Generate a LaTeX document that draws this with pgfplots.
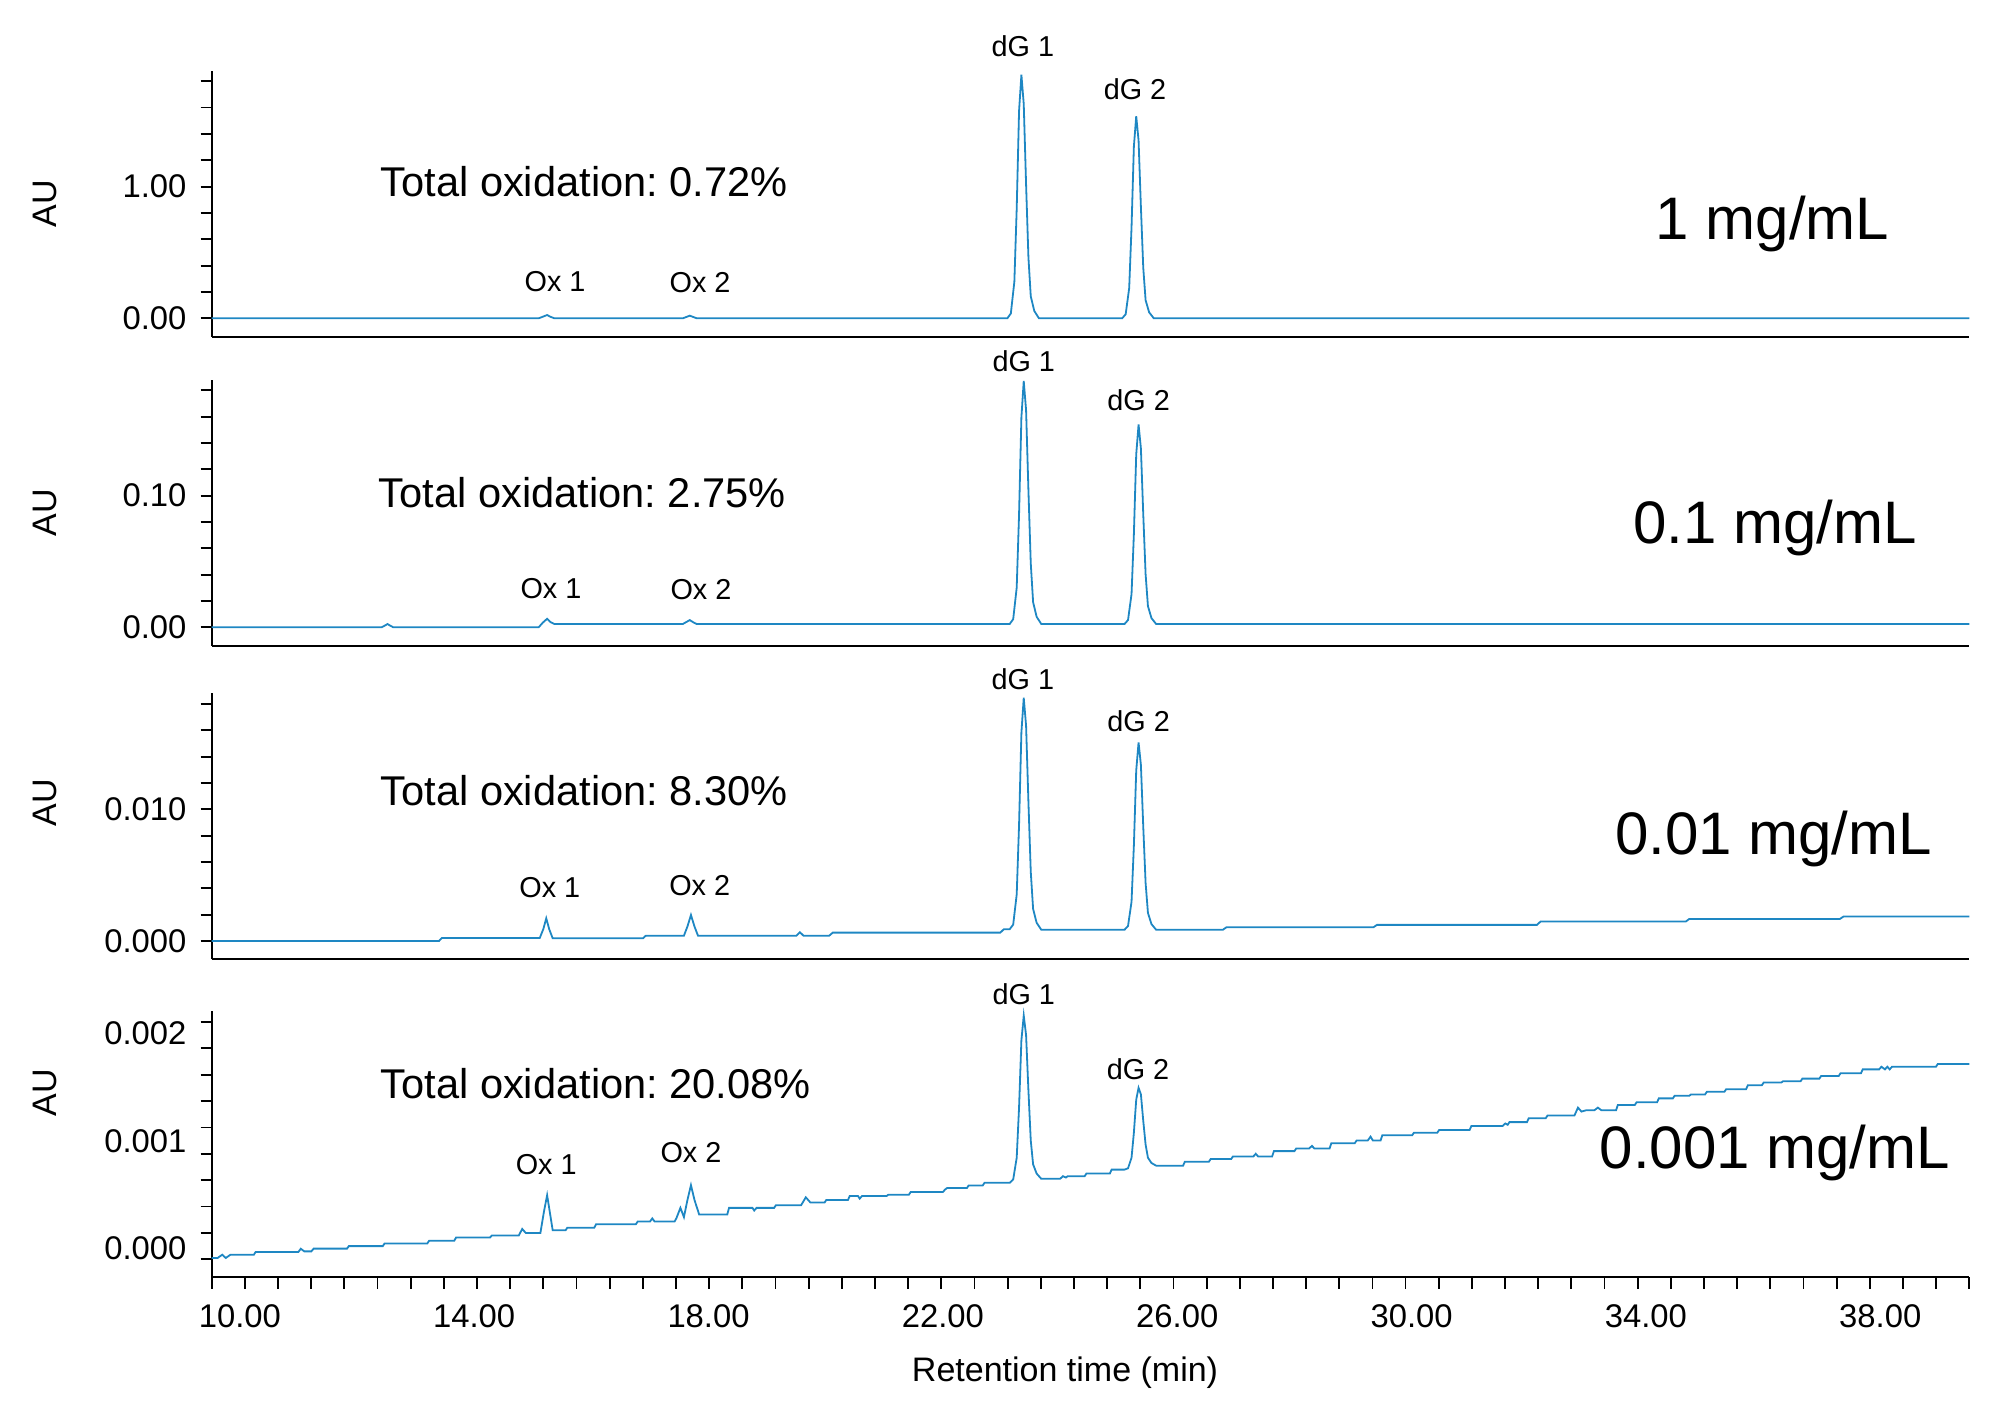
\documentclass[border=0pt]{standalone}
\usepackage{fontspec}
\setmainfont{Liberation Sans}
\usepackage{pgfplots}
\pgfplotsset{compat=1.18}
\frenchspacing
\definecolor{trace}{RGB}{30,135,195}
\newcommand{\fpk}{\fontsize{7.2}{8}\selectfont}
\newcommand{\ftot}{\fontsize{10.4}{12}\selectfont}
\newcommand{\fconc}{\fontsize{15}{18}\selectfont}
\newcommand{\ftick}{\fontsize{8.2}{10}\selectfont}
\newcommand{\flab}{\fontsize{8.5}{10}\selectfont}
\pgfplotsset{
  chrom/.style={
    scale only axis, width=439.4pt, height=66.5pt,
    xmin=9.52, xmax=39.52,
    axis lines=left, axis line style={-, line width=0.45pt, black},
    tick align=outside, major tick length=0pt, minor tick length=2.8pt,
    every tick/.style={black, line width=0.45pt},
    minor tick style={black, line width=0.45pt},
    yticklabel style={font=\ftick, xshift=-2.8pt},
    xticklabel style={font=\ftick, yshift=-3.3pt},
    scaled y ticks=false, scaled x ticks=false,
    clip=false, anchor=south west,
  },
  notx/.style={xtick=\empty, minor xtick={}},
}
\begin{document}
\begin{tikzpicture}
\path[use as bounding box] (0,0) rectangle (500pt,-355.75pt);

% ---------------- Panel 1: 1 mg/mL
\begin{axis}[chrom, notx, at={(52.93pt,-84.18pt)},
  ymin=-0.1397, ymax=1.88,
  ytick={0,1}, yticklabels={0.00,1.00},
  minor ytick={0,0.2,0.4,0.6,0.8,1.0,1.2,1.4,1.6,1.8}]
\addplot[trace, line width=0.45pt] table {
9.52 0
15.10 0
15.17 0.012
15.245 0.025
15.30 0.012
15.37 0
17.56 0
17.62 0.01
17.68 0.02
17.74 0.01
17.80 0
23.10 0
23.16 0.037
23.22 0.278
23.26 0.833
23.30 1.573
23.34 1.85
23.38 1.628
23.42 1.018
23.46 0.463
23.50 0.167
23.56 0.056
23.64 0
25.06 0
25.12 0.031
25.18 0.230
25.22 0.691
25.26 1.305
25.30 1.535
25.34 1.351
25.38 0.844
25.42 0.384
25.46 0.138
25.52 0.046
25.60 0
39.52 0
};
\node[font=\fpk, inner sep=0pt] at (axis cs:23.365,2.068) {dG 1};
\node[font=\fpk, inner sep=0pt] at (axis cs:25.28,1.741) {dG 2};
\node[font=\ftot, inner sep=0pt, anchor=west] at (axis cs:12.39,1.035) {Total oxidation: 0.72\%};
\node[font=\fpk, inner sep=0pt] at (axis cs:15.38,0.276) {Ox 1};
\node[font=\fpk, inner sep=0pt] at (axis cs:17.855,0.268) {Ox 2};
\node[font=\fconc, inner sep=0pt] at (axis cs:36.16,0.716) {1 mg/mL};
\node[font=\flab, inner sep=0pt, rotate=90] at (rel axis cs:-0.0948,0.5) {AU};
\end{axis}

% ---------------- Panel 2: 0.1 mg/mL
\begin{axis}[chrom, notx, at={(52.93pt,-161.43pt)},
  ymin=-0.01397, ymax=0.188,
  ytick={0,0.1}, yticklabels={0.00,0.10},
  minor ytick={0,0.02,0.04,0.06,0.08,0.10,0.12,0.14,0.16,0.18}]
\addplot[trace, line width=0.45pt] table {
9.52 0
12.42 0
12.47 0.0012
12.52 0.0025
12.57 0.0012
12.62 0
15.10 0
15.17 0.0035
15.245 0.0065
15.30 0.004
15.37 0.0025
17.56 0.0025
17.62 0.004
17.68 0.0055
17.74 0.0038
17.80 0.0025
23.14 0.0025
23.20 0.0062
23.26 0.0302
23.30 0.0855
23.34 0.1593
23.38 0.187
23.42 0.1649
23.46 0.1040
23.50 0.0486
23.54 0.0191
23.60 0.0080
23.68 0.0025
25.10 0.0025
25.16 0.0055
25.22 0.0252
25.26 0.0707
25.30 0.1313
25.34 0.154
25.38 0.1358
25.42 0.0858
25.46 0.0404
25.50 0.0161
25.56 0.0070
25.64 0.0025
39.52 0.0025
};
\node[font=\fpk, inner sep=0pt] at (axis cs:23.38,0.2017) {dG 1};
\node[font=\fpk, inner sep=0pt] at (axis cs:25.34,0.1725) {dG 2};
\node[font=\ftot, inner sep=0pt, anchor=west] at (axis cs:12.36,0.1026) {Total oxidation: 2.75\%};
\node[font=\fpk, inner sep=0pt] at (axis cs:15.31,0.0291) {Ox 1};
\node[font=\fpk, inner sep=0pt] at (axis cs:17.87,0.0283) {Ox 2};
\node[font=\fconc, inner sep=0pt] at (axis cs:36.2,0.0755) {0.1 mg/mL};
\node[font=\flab, inner sep=0pt, rotate=90] at (rel axis cs:-0.0948,0.5) {AU};
\end{axis}

% ---------------- Panel 3: 0.01 mg/mL
\begin{axis}[chrom, notx, at={(52.93pt,-239.83pt)},
  ymin=-0.001397, ymax=0.01881,
  ytick={0,0.01}, yticklabels={0.000,0.010},
  minor ytick={0,0.002,0.004,0.006,0.008,0.010,0.012,0.014,0.016,0.018}]
\addplot[trace, line width=0.45pt] table {
9.52 0
13.40 0
13.45 0.00023
15.12 0.00023
15.18 0.0009
15.23 0.00172
15.28 0.0009
15.34 0.0002
16.88 0.0002
16.93 0.0004
17.58 0.0004
17.64 0.0011
17.70 0.00197
17.76 0.0011
17.82 0.0004
19.50 0.0004
19.56 0.00066
19.62 0.0004
20.06 0.0004
20.12 0.00063
22.98 0.00063
23.04 0.00089
23.14 0.00089
23.20 0.00124
23.26 0.00353
23.30 0.00880
23.34 0.01583
23.38 0.01847
23.42 0.01636
23.46 0.01056
23.50 0.00525
23.54 0.00243
23.60 0.00138
23.68 0.00085
25.10 0.00085
25.16 0.00113
25.22 0.00298
25.26 0.00725
25.30 0.01295
25.34 0.01508
25.38 0.01337
25.42 0.00868
25.46 0.00441
25.50 0.00213
25.56 0.00128
25.64 0.00085
26.78 0.00085
26.84 0.00104
29.35 0.00104
29.41 0.00122
32.14 0.00122
32.20 0.00147
34.68 0.00147
34.74 0.00167
37.31 0.00167
37.37 0.00185
39.52 0.00185
};
\node[font=\fpk, inner sep=0pt] at (axis cs:23.365,0.01989) {dG 1};
\node[font=\fpk, inner sep=0pt] at (axis cs:25.34,0.01671) {dG 2};
\node[font=\ftot, inner sep=0pt, anchor=west] at (axis cs:12.39,0.01139) {Total oxidation: 8.30\%};
\node[font=\fpk, inner sep=0pt] at (axis cs:15.29,0.00402) {Ox 1};
\node[font=\fpk, inner sep=0pt] at (axis cs:17.85,0.00417) {Ox 2};
\node[font=\fconc, inner sep=0pt] at (axis cs:36.18,0.00774) {0.01 mg/mL};
\node[font=\flab, inner sep=0pt, rotate=90] at (rel axis cs:-0.0948,0.588) {AU};
\end{axis}

% ---------------- Panel 4: 0.001 mg/mL
\begin{axis}[chrom, at={(52.93pt,-319.33pt)},
  ymin=-0.0001367, ymax=0.00188,
  ytick={0.0000835,0.000894,0.001716}, yticklabels={0.000,0.001,0.002},
  minor ytick={0,0.0002,0.0004,0.0006,0.0008,0.0010,0.0012,0.0014,0.0016,0.0018},
  xtick={10,14,18,22,26,30,34,38},
  xticklabels={10.00,14.00,18.00,22.00,26.00,30.00,34.00,38.00},
  minor xtick={9.52,10.086038,...,39.53}]
\addplot[trace, line width=0.45pt] table {
9.52 0.00001
9.62 0.00001
9.70 0.000035
9.76 0.00001
9.84 0.000035
10.24 0.000035
10.27 0.000056
11.00 0.000056
11.04 0.00008
11.10 0.00006
11.22 0.00006
11.26 0.000081
11.83 0.000081
11.86 0.0001
12.44 0.0001
12.47 0.00012
13.20 0.00012
13.23 0.00014
13.66 0.00014
13.69 0.000165
14.27 0.000165
14.30 0.00018
14.76 0.00018
14.82 0.00023
14.88 0.0002
15.13 0.0002
15.19 0.00036
15.245 0.000486
15.29 0.00036
15.34 0.00022
15.56 0.00022
15.59 0.00024
16.05 0.00024
16.08 0.000266
16.76 0.000266
16.79 0.000286
17.00 0.000286
17.04 0.00031
17.08 0.000286
17.42 0.000286
17.45 0.00031
17.52 0.00039
17.58 0.00032
17.64 0.00045
17.70 0.000562
17.76 0.00045
17.84 0.00034
18.32 0.00034
18.35 0.00039
18.75 0.00039
18.78 0.00037
18.82 0.00039
19.12 0.00039
19.15 0.00041
19.58 0.00041
19.66 0.00047
19.74 0.00043
19.98 0.00043
20.01 0.00045
20.38 0.00045
20.41 0.00048
20.55 0.00048
20.58 0.00046
20.62 0.00048
21.04 0.00048
21.07 0.00049
21.42 0.00049
21.45 0.00051
22.00 0.00051
22.04 0.00053
22.07 0.00054
22.41 0.00054
22.44 0.00056
22.68 0.00056
22.71 0.00058
23.14 0.00058
23.20 0.000605
23.26 0.00077
23.30 0.00115
23.34 0.00166
23.38 0.001848
23.42 0.00170
23.46 0.00128
23.50 0.00090
23.54 0.00072
23.60 0.00065
23.68 0.00061
24.00 0.00061
24.05 0.00063
24.10 0.00062
24.13 0.00063
24.42 0.00063
24.45 0.00065
24.85 0.00065
24.88 0.00068
25.10 0.00068
25.16 0.00069
25.22 0.00077
25.26 0.00096
25.30 0.00121
25.34 0.0013
25.38 0.00125
25.42 0.00105
25.46 0.00087
25.50 0.00077
25.56 0.00073
25.64 0.00071
26.10 0.00071
26.13 0.00074
26.54 0.00074
26.57 0.00076
26.92 0.00076
26.95 0.00078
27.30 0.00078
27.34 0.00080
27.38 0.00078
27.62 0.00078
27.65 0.00082
28.00 0.00082
28.03 0.00084
28.25 0.00084
28.30 0.00086
28.34 0.00084
28.60 0.00084
28.63 0.00088
29.03 0.00088
29.06 0.00090
29.25 0.00090
29.30 0.00093
29.34 0.00090
29.47 0.00090
29.50 0.00094
30.01 0.00094
30.04 0.00096
30.44 0.00096
30.47 0.00098
30.99 0.00098
31.02 0.00101
31.55 0.00101
31.60 0.00103
31.64 0.00102
31.67 0.00104
31.97 0.00104
32.00 0.00107
32.29 0.00107
32.32 0.00109
32.78 0.00109
32.84 0.00115
32.90 0.00112
32.98 0.00113
33.12 0.00113
33.18 0.00115
33.24 0.00113
33.49 0.00113
33.52 0.00117
33.81 0.00117
33.84 0.00119
34.19 0.00119
34.22 0.00122
34.46 0.00122
34.49 0.00124
34.74 0.00124
34.77 0.00125
35.01 0.00125
35.04 0.00127
35.34 0.00127
35.37 0.00129
35.71 0.00129
35.74 0.00132
35.98 0.00132
36.01 0.00134
36.31 0.00134
36.34 0.00135
36.64 0.00135
36.67 0.00137
36.96 0.00137
36.99 0.00139
37.29 0.00139
37.32 0.00141
37.67 0.00141
37.70 0.00144
37.98 0.00144
38.02 0.00146
38.08 0.00144
38.12 0.00146
38.16 0.00144
38.20 0.00146
38.95 0.00146
38.98 0.00148
39.52 0.00148
};
\node[font=\fpk, inner sep=0pt] at (axis cs:23.38,0.002007) {dG 1};
\node[font=\fpk, inner sep=0pt] at (axis cs:25.33,0.001445) {dG 2};
\node[font=\ftot, inner sep=0pt, anchor=west] at (axis cs:12.39,0.001331) {Total oxidation: 20.08\%};
\node[font=\fpk, inner sep=0pt] at (axis cs:15.23,0.000716) {Ox 1};
\node[font=\fpk, inner sep=0pt] at (axis cs:17.70,0.000807) {Ox 2};
\node[font=\fconc, inner sep=0pt] at (axis cs:36.2,0.000807) {0.001 mg/mL};
\node[font=\flab, inner sep=0pt, rotate=90] at (rel axis cs:-0.0948,0.694) {AU};
\node[font=\flab, inner sep=0pt, yshift=-23.8pt] at (rel axis cs:0.4855,0) {Retention time (min)};
\end{axis}
\end{tikzpicture}
\end{document}
